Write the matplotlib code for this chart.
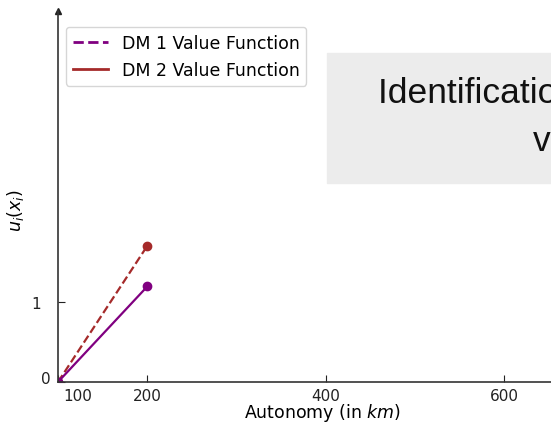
import matplotlib
matplotlib.use("Agg")
import matplotlib.pyplot as plt
import matplotlib.transforms as mtransforms
from matplotlib.lines import Line2D
from matplotlib.patches import Rectangle

# data
autonomy = [100, 200]
dm1_values = [0, 1.20]
dm2_values = [0, 1.71]
x_ticks = [100, 200, 400, 600]
y_ticks = [0, 1]

W, H = 551, 427
fig = plt.figure(figsize=(W / 100, H / 100), dpi=100)

# grey box in the background (cropped slide)
fig.patches.append(Rectangle((327 / W, 1 - 184 / H), 0.5, 130 / H,
                             transform=fig.transFigure, color="#ececec", zorder=0))
fig.text(378 / W, 1 - 103 / H, "Identification of the DMs'", fontsize=25.5,
         family="Liberation Sans", ha="left", va="baseline", color="#111111")
fig.text(533 / W, 1 - 151 / H, "value functions", fontsize=25.5,
         family="Liberation Sans", ha="left", va="baseline", color="#111111")

ax = fig.add_axes([58 / W, 1 - 383 / H, 600 / W, 371 / H])
ax.patch.set_alpha(0)

ax.plot(autonomy, dm2_values, "--o", color="brown", lw=1.6, ms=6)
ax.plot(autonomy, dm1_values, "-o", color="purple", lw=1.6, ms=6)

ax.set_xlim(100, 772)
ax.set_ylim(0, 4.66)

for s in ["top", "right"]:
    ax.spines[s].set_visible(False)
for s in ["left", "bottom"]:
    ax.spines[s].set_color("#333333")
    ax.spines[s].set_linewidth(1.2)
ax.plot(0, 1, "^", color="#222222", ms=5, transform=ax.transAxes, clip_on=False)

ax.set_xticks(x_ticks)
ax.set_yticks(y_ticks)
ax.tick_params(axis="both", direction="in", length=5, labelsize=11, colors="#222222")
ax.tick_params(axis="y", pad=12)
ax.tick_params(axis="x", pad=4)

# nudge the corner labels like in the original
xl = ax.get_xticklabels()[0]
xl.set_ha("left")
xl.set_transform(xl.get_transform() + mtransforms.ScaledTranslation(5 / 100, 0, fig.dpi_scale_trans))
yl = ax.get_yticklabels()[0]
yl.set_transform(yl.get_transform() + mtransforms.ScaledTranslation(9 / 100, 5 / 100, fig.dpi_scale_trans))

ax.set_xlabel("Autonomy (in $km$)", fontsize=12.5)
ax.xaxis.set_label_coords(265 / 600, -19 / 371)
ax.xaxis.label.set_va("top")
fig.text(15 / W, 1 - 210 / H, "$u_i(x_i)$", fontsize=12.5, rotation=90, ha="center", va="center")

handles = [Line2D([], [], color="purple", ls="--", lw=2, label="DM 1 Value Function"),
           Line2D([], [], color="brown", ls="-", lw=2, label="DM 2 Value Function")]
ax.legend(handles=handles, loc="upper left", bbox_to_anchor=(66 / W, 1 - 28 / H),
          bbox_transform=fig.transFigure, borderaxespad=0, fontsize=12.5)

fig.savefig("out.png", dpi=100)
